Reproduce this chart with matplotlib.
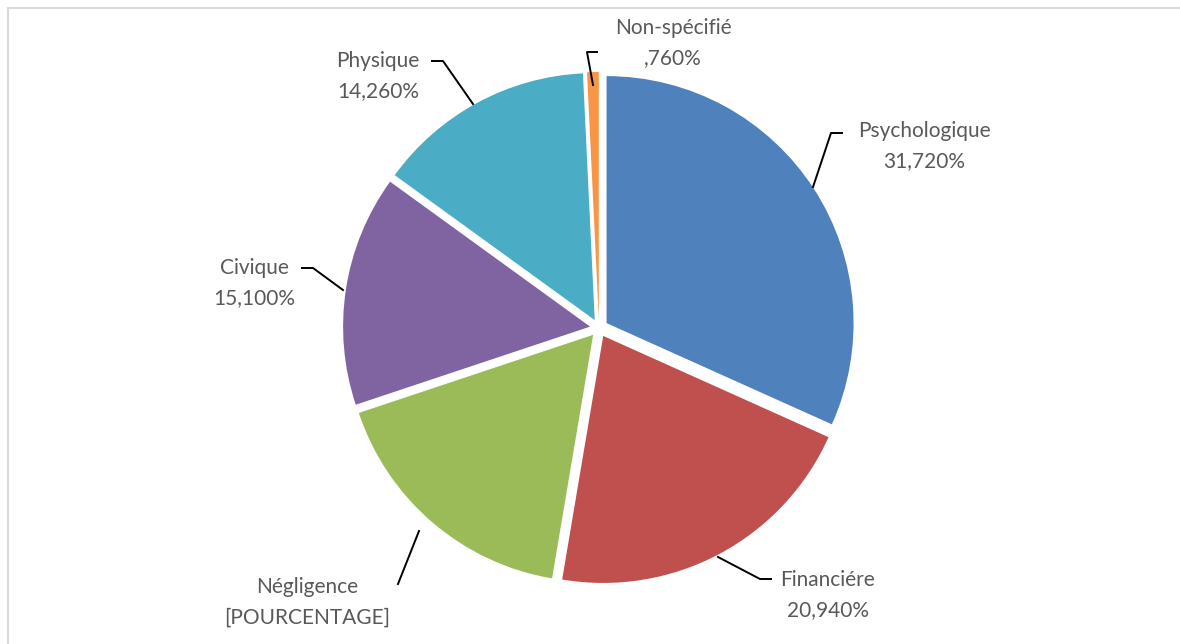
import matplotlib
matplotlib.use("Agg")
import matplotlib.pyplot as plt
from matplotlib.lines import Line2D

categories = ["Psychologique", "Financiére", "Négligence", "Civique", "Physique", "Non-spécifié"]
values = [31.72, 20.94, 17.22, 15.10, 14.26, 0.76]
pct_labels = ["31,720%", "20,940%", "[POURCENTAGE]", "15,100%", "14,260%", ",760%"]
colors = ["#4F81BD", "#C0504D", "#9BBB59", "#8064A2", "#4BACC6", "#F79646"]

W, H = 1180, 644
fig = plt.figure(figsize=(W / 100, H / 100), dpi=100)
ax = fig.add_axes([0, 0, 1, 1])

cx, cy, R, d = 599, H - 328, 247, 9
ax.pie(values, colors=colors, startangle=90, counterclock=False,
       center=(cx, cy), radius=R, explode=[d] * len(values),
       wedgeprops=dict(linewidth=0), frame=False)
ax.set_xlim(0, W)
ax.set_ylim(0, H)
ax.set_aspect("auto")
ax.axis("off")

# label layout (pixel coords, y from top): text center, leader polyline
layout = {
    "Psychologique": ((924, 146), [(813, 187), (831, 133), (842, 133)]),
    "Financiére": ((828, 595), [(718, 557), (760, 579), (771, 579)]),
    "Négligence": ((307, 602), [(419, 531), (398, 584)]),
    "Civique": ((254, 283), [(302, 268), (313, 268), (343, 290)]),
    "Physique": ((378, 76), [(432, 61), (443, 61), (473, 104)]),
    "Non-spécifié": ((673, 43), [(593, 85), (587, 52), (597, 52)]),
}

txt_color = "#595959"
for cat, pct in zip(categories, pct_labels):
    (tx, ty), pts = layout[cat]
    ax.text(tx, H - ty, f"{cat}\n{pct}", ha="center", va="center",
            fontsize=15, color=txt_color, family=["Lato", "DejaVu Sans"],
            linespacing=1.65)
    xs = [p[0] for p in pts]
    ys = [H - p[1] for p in pts]
    ax.add_line(Line2D(xs, ys, color="black", lw=1.4))

# chart frame
ax.add_line(Line2D([8, W], [H - 8, H - 8], color="#D9D9D9", lw=1.5))
ax.add_line(Line2D([8, 8], [H - 8, 0], color="#D9D9D9", lw=1.5))

fig.savefig("out.png", dpi=100, facecolor="white")
